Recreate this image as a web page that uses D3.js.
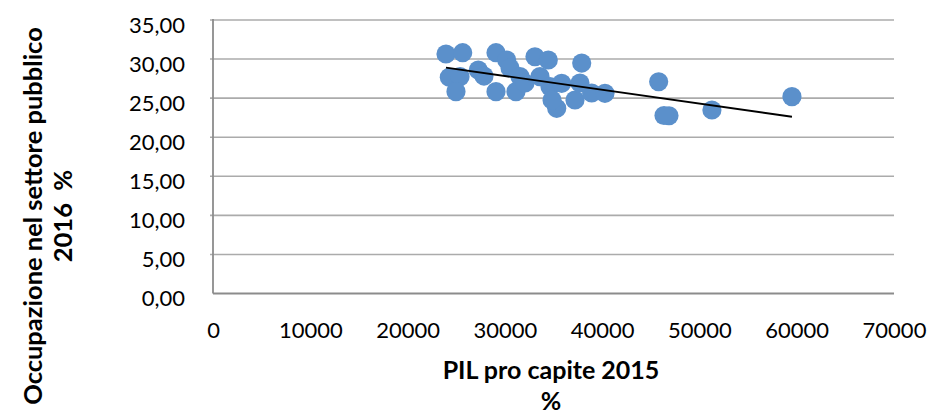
<!DOCTYPE html>
<html>
<head>
<meta charset="utf-8">
<script src="https://cdn.jsdelivr.net/npm/d3@7"></script>
<style>
  html, body { margin: 0; padding: 0; background: #fff; }
  svg { display: block; font-family: "Lato", "Open Sans", sans-serif; }
</style>
</head>
<body>
<svg id="chart" width="933" height="415"></svg>
<script>
// GDP per capita 2015 (x) vs public-sector employment share 2016 (y)
const gdpPerCapita = [
  23950, 25665, 24290, 25390, 24975, 27270, 27855, 29090, 30190, 30530,
  29090, 31140, 31555, 33095, 34465, 32070, 33610, 34640, 35840, 35330,
  34850, 37210, 37900, 37720, 38925, 40290, 45810, 46870, 46360, 51285,
  59510
];
const publicEmployment = [
  30.65, 30.82, 27.67, 27.75, 25.83, 28.60, 27.83, 30.82, 29.88, 28.86,
  25.83, 25.83, 27.75, 30.30, 29.88, 26.94, 27.75, 26.47, 26.90, 23.70,
  24.76, 24.76, 29.49, 26.94, 25.66, 25.62, 27.10, 22.75, 22.78, 23.48,
  25.19
];
// linear trend line endpoints [x, y]
const trendLine = [[23950, 28.90], [59510, 22.62]];

const xTicks = [0, 10000, 20000, 30000, 40000, 50000, 60000, 70000];
const yTicks = [0, 5, 10, 15, 20, 25, 30, 35];
const xTitle = ["PIL pro capite 2015", "%"];
const yTitle = ["Occupazione nel settore pubblico", "2016\u00A0 %"];

const svg = d3.select("#chart");
const plot = { left: 213, right: 894, top: 20, bottom: 293.5 };

const x = d3.scaleLinear().domain([0, 70000]).range([plot.left, plot.right]);
const y = d3.scaleLinear().domain([0, 35]).range([plot.bottom, plot.top]);

const gridColor = "#ababab";
const axisColor = "#8c8c8c";
const fmtY = v => d3.format(".2f")(v).replace(".", ",");

// horizontal gridlines
svg.append("g")
  .selectAll("line")
  .data(yTicks.filter(t => t > 0))
  .join("line")
  .attr("x1", plot.left - 3).attr("x2", plot.right)
  .attr("y1", d => y(d)).attr("y2", d => y(d))
  .attr("stroke", gridColor).attr("stroke-width", 1.6);

// y axis labels
const yAxis = d3.axisLeft(y).tickValues(yTicks).tickFormat(fmtY).tickSize(0).tickPadding(0);
const gy = svg.append("g").attr("transform", `translate(${plot.left - 28},0)`).call(yAxis);
gy.select(".domain").remove();
gy.selectAll("text")
  .attr("font-size", 22).attr("fill", "#000")
  .attr("dy", "0.32em")
  .attr("transform", "translate(0,5)")
  .attr("font-family", "Lato, 'Open Sans', sans-serif");

// x axis labels
const xAxis = d3.axisBottom(x).tickValues(xTicks).tickFormat(d3.format("d")).tickSize(0).tickPadding(0);
const gx = svg.append("g").attr("transform", `translate(0,${plot.bottom})`).call(xAxis);
gx.select(".domain").remove();
gx.selectAll("text")
  .attr("font-size", 22).attr("fill", "#000")
  .attr("y", 37.5).attr("dy", "0.32em")
  .attr("font-family", "Lato, 'Open Sans', sans-serif");

// axis lines
svg.append("line")
  .attr("x1", plot.left).attr("x2", plot.left)
  .attr("y1", plot.top - 1).attr("y2", plot.bottom)
  .attr("stroke", axisColor).attr("stroke-width", 1.8);
svg.append("line")
  .attr("x1", plot.left).attr("x2", plot.right)
  .attr("y1", plot.bottom).attr("y2", plot.bottom)
  .attr("stroke", axisColor).attr("stroke-width", 1.8);

// scatter points
const points = gdpPerCapita.map((g, i) => ({ g, p: publicEmployment[i] }));
svg.append("g")
  .selectAll("circle")
  .data(points)
  .join("circle")
  .attr("cx", d => x(d.g))
  .attr("cy", d => y(d.p))
  .attr("r", 9.6)
  .attr("fill", "#5b90cb");

// trend line
svg.append("path")
  .datum(trendLine)
  .attr("d", d3.line().x(d => x(d[0])).y(d => y(d[1])))
  .attr("stroke", "#000").attr("stroke-width", 1.8).attr("fill", "none");

// x axis title
const xt = svg.append("text")
  .attr("text-anchor", "middle")
  .attr("font-size", 25).attr("font-weight", "bold").attr("fill", "#000");
xTitle.forEach((line, i) => {
  xt.append("tspan").attr("x", 551).attr("y", 379 + i * 30.5).text(line);
});

// y axis title (rotated)
const yt = svg.append("text")
  .attr("transform", "rotate(-90)")
  .attr("text-anchor", "middle")
  .attr("font-size", 25.5).attr("font-weight", "bold").attr("fill", "#000");
yTitle.forEach((line, i) => {
  yt.append("tspan").attr("x", -216).attr("y", 42 + i * 30).text(line);
});
</script>
</body>
</html>
